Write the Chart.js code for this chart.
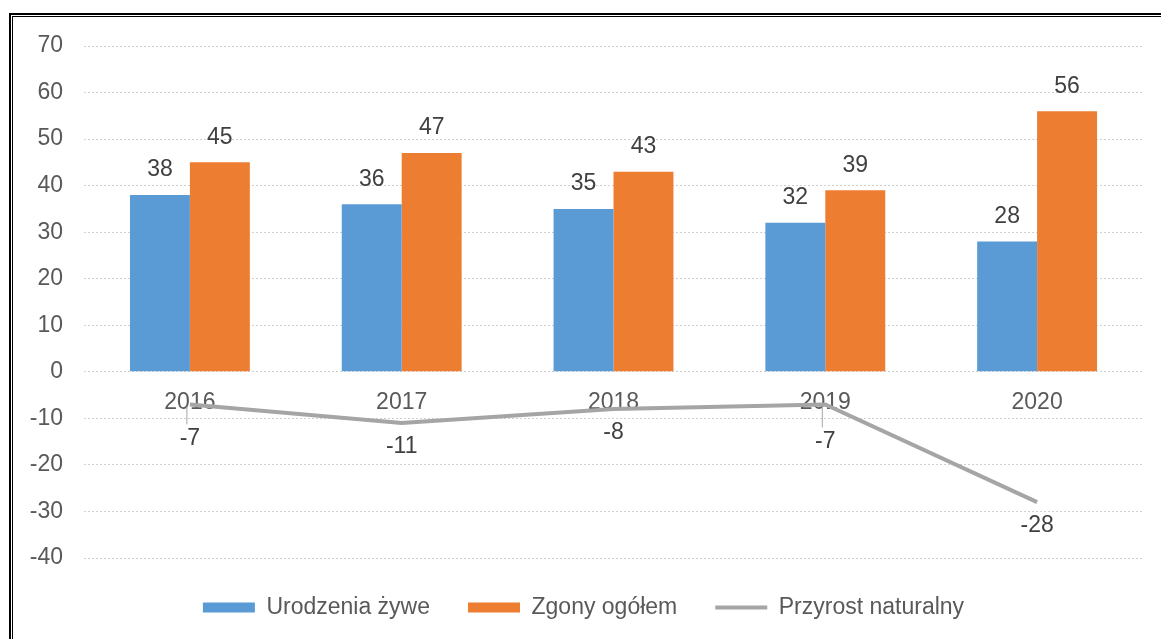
<!DOCTYPE html>
<html>
<head>
<meta charset="utf-8">
<script src="https://cdn.jsdelivr.net/npm/chart.js@4/dist/chart.umd.min.js"></script>
<style>
  html, body { margin: 0; padding: 0; background: #fff; overflow: hidden; }
  #wrap { position: relative; width: 1161px; height: 639px; }
  #frameOuter { position: absolute; left: 9px; top: 13px; width: 1200px; height: 700px; border: 2px solid #000; box-sizing: border-box; }
  #frameInner { position: absolute; left: 12px; top: 16px; width: 1200px; height: 700px; border: 1px solid #000; box-sizing: border-box; }
  canvas { position: absolute; left: 0; top: 0; }
</style>
</head>
<body>
<div id="wrap">
  <div id="frameOuter"></div>
  <div id="frameInner"></div>
  <canvas id="chart" width="1161" height="639"></canvas>
</div>
<script>
const years = ['2016', '2017', '2018', '2019', '2020'];
const births = [38, 36, 35, 32, 28];
const deaths = [45, 47, 43, 39, 56];
const growth = [-7, -11, -8, -7, -28];

const FONT = '"Liberation Sans", Arial, sans-serif';

// data labels, drawn by hand since there is no datalabels plugin
const valueLabels = {
  id: 'valueLabels',
  afterDatasetsDraw(chart, args, opts) {
    const ctx = chart.ctx;
    ctx.save();
    ctx.font = '23px ' + FONT;
    ctx.fillStyle = '#404040';
    ctx.textAlign = 'center';
    ctx.textBaseline = 'middle';
    chart.data.datasets.forEach((ds, i) => {
      const meta = chart.getDatasetMeta(i);
      meta.data.forEach((el, j) => {
        const v = ds.data[j];
        if (ds.type === 'line') {
          const off = opts.lineOffsets[j];
          if (off > 30) {
            ctx.strokeStyle = '#a5a5a5';
            ctx.lineWidth = 1;
            ctx.beginPath();
            ctx.moveTo(el.x - 3, el.y + 2);
            ctx.lineTo(el.x - 3, el.y + off - 14);
            ctx.stroke();
          }
          ctx.fillText(String(v), el.x, el.y + off);
        } else {
          ctx.fillText(String(v), el.x, el.y - 25);
        }
      });
    });
    ctx.restore();
  }
};

new Chart(document.getElementById('chart'), {
  type: 'bar',
  data: {
    labels: years,
    datasets: [
      {
        type: 'line',
        label: 'Przyrost naturalny',
        data: growth,
        borderColor: '#a5a5a5',
        backgroundColor: '#a5a5a5',
        borderWidth: 4,
        pointRadius: 0,
        pointStyle: 'line',
        order: 0
      },
      {
        label: 'Urodzenia żywe',
        data: births,
        backgroundColor: '#5b9bd5',
        pointStyle: 'rect',
        order: 1
      },
      {
        label: 'Zgony ogółem',
        data: deaths,
        backgroundColor: '#ed7d31',
        pointStyle: 'rect',
        order: 2
      }
    ]
  },
  options: {
    responsive: false,
    animation: false,
    barPercentage: 1,
    categoryPercentage: 0.566,
    layout: { padding: { left: 24, right: 18, top: 46, bottom: 10 } },
    scales: {
      x: {
        position: { y: 0 },
        grid: { display: false, drawTicks: false },
        border: { display: false },
        ticks: {
          color: '#595959',
          padding: 17,
          font: { size: 23, family: FONT }
        }
      },
      y: {
        min: -40,
        max: 70,
        afterFit: s => { s.width = 60; },
        grid: { color: '#d0d0d0', drawTicks: false },
        border: { display: false, dash: [2, 2] },
        ticks: {
          stepSize: 10,
          color: '#595959',
          padding: 21,
          font: { size: 23, family: FONT }
        }
      }
    },
    plugins: {
      legend: {
        position: 'bottom',
        labels: {
          usePointStyle: true,
          pointStyleWidth: 52,
          boxWidth: 52,
          boxHeight: 10,
          padding: 38,
          color: '#595959',
          font: { size: 23, family: FONT },
          sort: (a, b) => [1, 2, 0].indexOf(a.datasetIndex) - [1, 2, 0].indexOf(b.datasetIndex)
        }
      },
      tooltip: { enabled: false },
      valueLabels: { lineOffsets: [34, 24, 24, 37, 24] }
    }
  },
  plugins: [valueLabels]
});
</script>
</body>
</html>
